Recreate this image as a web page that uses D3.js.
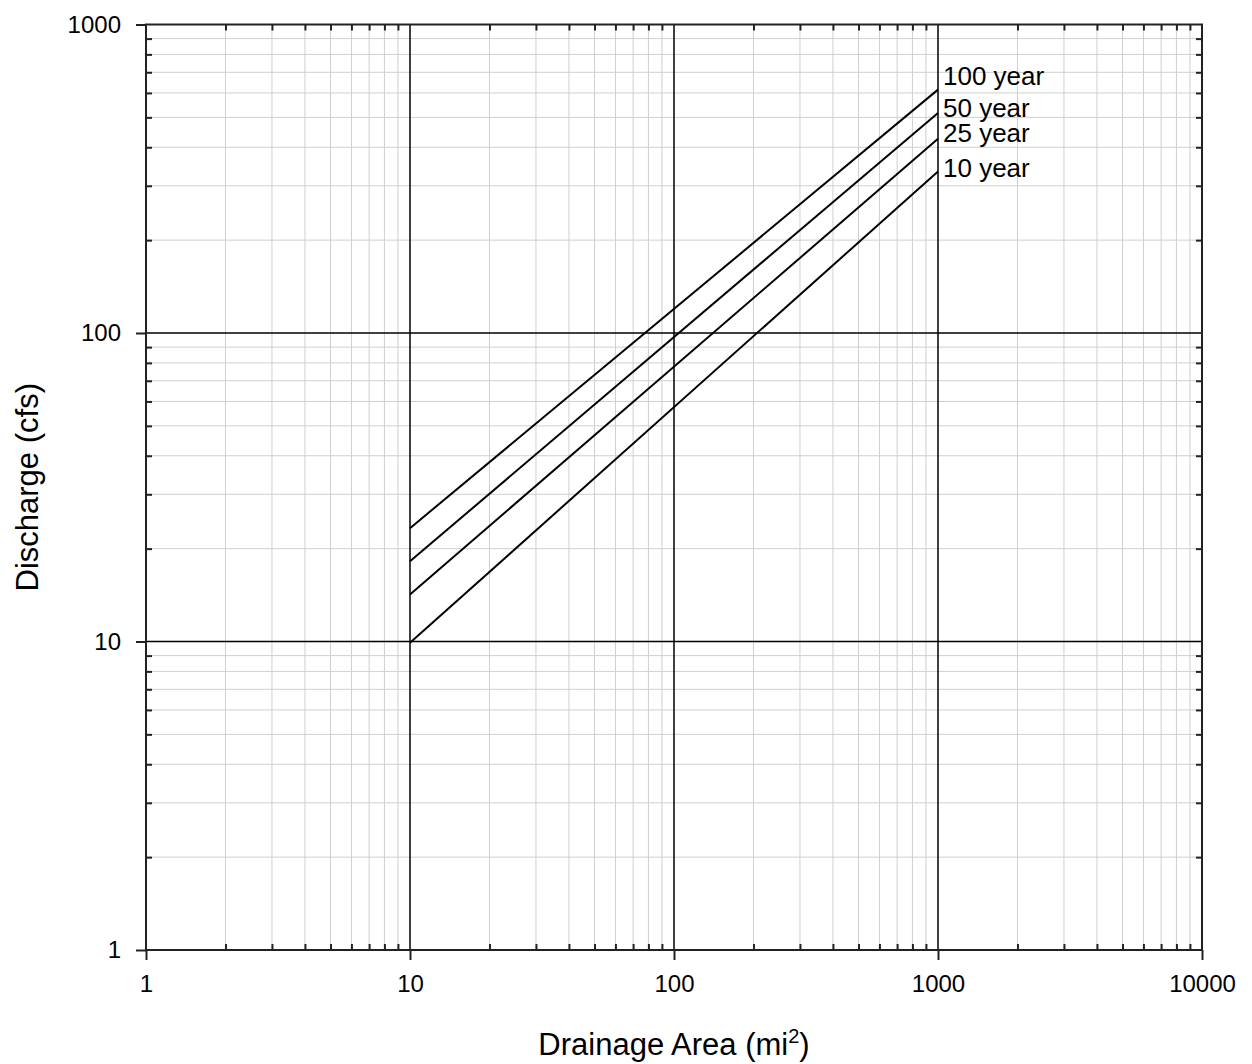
<!DOCTYPE html>
<html>
<head>
<meta charset="utf-8">
<script src="https://cdn.jsdelivr.net/npm/d3@7"></script>
<style>
  body { margin: 0; background: #fff; }
  svg, svg text { font-family: "Liberation Sans", Arial, sans-serif; }
  .minor-grid line { stroke: #cfcfcf; stroke-width: 1; }
  .major-grid line { stroke: #000; stroke-width: 1.5; }
  .axis path { display: none; }
  .axis line { stroke: #222; stroke-width: 2; }
  .axis text { font-size: 24px; fill: #000; font-family: "Liberation Sans", Arial, sans-serif; }
</style>
</head>
<body>
<svg id="chart" width="1252" height="1064"></svg>
<script>
// drainage area endpoints (mi^2)
const areas = [10, 1000];

// discharge (cfs) at each endpoint, per return period
const q10 = [9.9, 334];
const q25 = [14.2, 426];
const q50 = [18.2, 517];
const q100 = [23.3, 615];

const seriesNames = ['10 year', '25 year', '50 year', '100 year'];
const seriesValues = [q10, q25, q50, q100];

const xMajor = [1, 10, 100, 1000, 10000];
const yMajor = [1, 10, 100, 1000];

const svg = d3.select('#chart');
const margin = { left: 146, top: 24.5, right: 50, bottom: 114 };
const width = 1252 - margin.left - margin.right;
const height = 1064 - margin.top - margin.bottom;

const x = d3.scaleLog().domain([1, 10000]).range([0, width]);
const y = d3.scaleLog().domain([1, 1000]).range([height, 0]);

const g = svg.append('g').attr('transform', `translate(${margin.left},${margin.top})`);

// minor tick positions: 2..9 in every decade
function minors(majors) {
    const out = [];
    for (let i = 0; i < majors.length - 1; i++) {
        for (let k = 2; k <= 9; k++) out.push(majors[i] * k);
    }
    return out;
}
const xMinor = minors(xMajor);
const yMinor = minors(yMajor);

// minor grid
const minorGrid = g.append('g').attr('class', 'minor-grid');
minorGrid.selectAll('.vx').data(xMinor).enter().append('line')
    .attr('x1', d => x(d)).attr('x2', d => x(d))
    .attr('y1', 0).attr('y2', height);
minorGrid.selectAll('.hy').data(yMinor).enter().append('line')
    .attr('y1', d => y(d)).attr('y2', d => y(d))
    .attr('x1', 0).attr('x2', width);

// major grid (inner decades)
const majorGrid = g.append('g').attr('class', 'major-grid');
majorGrid.selectAll('.vx').data(xMajor.slice(1, -1)).enter().append('line')
    .attr('x1', d => x(d)).attr('x2', d => x(d))
    .attr('y1', 0).attr('y2', height);
majorGrid.selectAll('.hy').data(yMajor.slice(1, -1)).enter().append('line')
    .attr('y1', d => y(d)).attr('y2', d => y(d))
    .attr('x1', 0).attr('x2', width);

// frame
g.append('rect')
    .attr('x', 0).attr('y', 0)
    .attr('width', width).attr('height', height)
    .attr('fill', 'none')
    .attr('stroke', '#222')
    .attr('stroke-width', 2);

// major ticks with labels (outward)
g.append('g').attr('class', 'axis')
    .attr('transform', `translate(0,${height})`)
    .call(d3.axisBottom(x).tickValues(xMajor).tickSize(10).tickPadding(15).tickFormat(d3.format('d')));
g.append('g').attr('class', 'axis')
    .call(d3.axisLeft(y).tickValues(yMajor).tickSize(10).tickPadding(15).tickFormat(d3.format('d')));

// minor ticks (inward) on all four sides
const noLabel = () => '';
g.append('g').attr('class', 'axis')
    .attr('transform', `translate(0,${height})`)
    .call(d3.axisBottom(x).tickValues(xMinor).tickSize(-6).tickFormat(noLabel));
g.append('g').attr('class', 'axis')
    .call(d3.axisTop(x).tickValues(xMinor).tickSize(-6).tickFormat(noLabel));
g.append('g').attr('class', 'axis')
    .call(d3.axisLeft(y).tickValues(yMinor).tickSize(-6).tickFormat(noLabel));
g.append('g').attr('class', 'axis')
    .attr('transform', `translate(${width},0)`)
    .call(d3.axisRight(y).tickValues(yMinor).tickSize(-6).tickFormat(noLabel));

// discharge lines
const line = d3.line()
    .x((d, i) => x(areas[i]))
    .y(d => y(d));

g.selectAll('.series').data(seriesValues).enter().append('path')
    .attr('class', 'series')
    .attr('d', d => line(d))
    .attr('fill', 'none')
    .attr('stroke', '#000')
    .attr('stroke-width', 2);

// series labels at the right end
const labelDy = [6, 3, 4, -5];
g.selectAll('.series-label').data(seriesNames).enter().append('text')
    .attr('class', 'series-label')
    .attr('x', x(areas[1]) + 5)
    .attr('y', (d, i) => y(seriesValues[i][1]) + labelDy[i])
    .attr('font-size', 26)
    .text(d => d);

// axis titles
const xTitle = svg.append('text')
    .attr('x', margin.left + width / 2)
    .attr('y', 1055)
    .attr('text-anchor', 'middle')
    .attr('font-size', 31);
xTitle.append('tspan').text('Drainage Area (mi');
xTitle.append('tspan').attr('dy', -12).attr('font-size', 20).text('2');
xTitle.append('tspan').attr('dy', 12).text(')');

svg.append('text')
    .attr('transform', `translate(38,${margin.top + height / 2}) rotate(-90)`)
    .attr('text-anchor', 'middle')
    .attr('font-size', 31)
    .text('Discharge (cfs)');
</script>
</body>
</html>
